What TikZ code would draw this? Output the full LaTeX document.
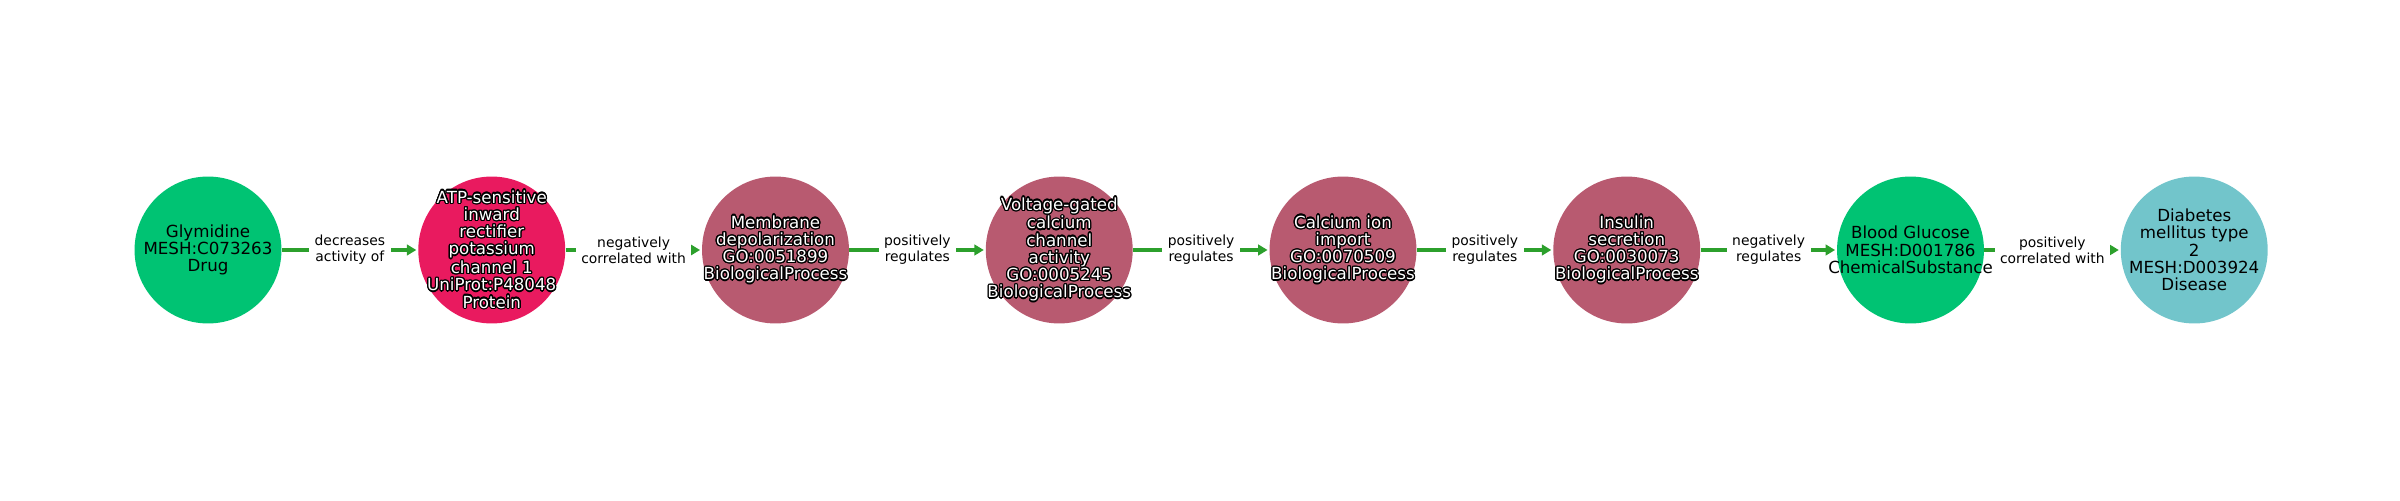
\documentclass[tikz,border=0pt]{standalone}
\usepackage{fontspec}
\setmainfont{DejaVu Sans}
\usepackage{contour}
\contourlength{0.9pt}
\usetikzlibrary{arrows.meta,positioning}

\definecolor{chemcol}{HTML}{00C373}
\definecolor{protcol}{HTML}{E91A5F}
\definecolor{proccol}{HTML}{B85A70}
\definecolor{discol}{HTML}{72C5CB}
\definecolor{edgecol}{HTML}{2CA02C}

\newcommand{\outl}[1]{\contour{black}{#1}}

\begin{document}
\begin{tikzpicture}[x=0.72pt, y=0.72pt, node distance=98.1pt,
    entity/.style={circle, draw=none, minimum size=105.8pt, inner sep=0pt},
    chem/.style={entity, fill=chemcol},
    protein/.style={entity, fill=protcol},
    process/.style={entity, fill=proccol},
    disease/.style={entity, fill=discol},
    nodetext/.style={inner sep=0pt, align=center, text=black, font=\fontsize{12}{12.4}\selectfont},
    nodetextout/.style={nodetext, text=white},
    rel/.style={-{Triangle[length=6.8pt, width=7.6pt]}, line width=2.9pt, draw=edgecol, shorten >=1.2pt},
    rellabel/.style={midway, fill=white, inner xsep=4pt, inner ysep=1pt, align=center, font=\fontsize{10}{11.3}\selectfont, text=black}]

    \useasboundingbox (0,0) rectangle (2400,500);

    % Nodes
    \node[chem, label={[nodetext]center:{Glymidine\\MESH:C073263\\Drug}}] (glymidine) at (208,250) {};
    \node[protein, right=of glymidine, label={[nodetextout]center:{\outl{ATP-sensitive}\\\outl{inward}\\\outl{rectifier}\\\outl{potassium}\\\outl{channel 1}\\\outl{UniProt:P48048}\\\outl{Protein}}}] (kir) {};
    \node[process, right=of kir, label={[nodetextout]center:{\outl{Membrane}\\\outl{depolarization}\\\outl{GO:0051899}\\\outl{BiologicalProcess}}}] (depol) {};
    \node[process, right=of depol, label={[nodetextout]center:{\outl{Voltage-gated}\\\outl{calcium}\\\outl{channel}\\\outl{activity}\\\outl{GO:0005245}\\\outl{BiologicalProcess}}}] (cachannel) {};
    \node[process, right=of cachannel, label={[nodetextout]center:{\outl{Calcium ion}\\\outl{import}\\\outl{GO:0070509}\\\outl{BiologicalProcess}}}] (caimport) {};
    \node[process, right=of caimport, label={[nodetextout]center:{\outl{Insulin}\\\outl{secretion}\\\outl{GO:0030073}\\\outl{BiologicalProcess}}}] (insulin) {};
    \node[chem, right=of insulin, label={[nodetext]center:{Blood Glucose\\MESH:D001786\\ChemicalSubstance}}] (glucose) {};
    \node[disease, right=of glucose, label={[nodetext]center:{Diabetes\\mellitus type\\2\\MESH:D003924\\Disease}}] (diabetes) {};

    % Arrows
    \draw[rel] (glymidine) -- (kir) node[rellabel] {decreases\\activity of};
    \draw[rel] (kir) -- (depol) node[rellabel] {negatively\\correlated with};
    \draw[rel] (depol) -- (cachannel) node[rellabel] {positively\\regulates};
    \draw[rel] (cachannel) -- (caimport) node[rellabel] {positively\\regulates};
    \draw[rel] (caimport) -- (insulin) node[rellabel] {positively\\regulates};
    \draw[rel] (insulin) -- (glucose) node[rellabel] {negatively\\regulates};
    \draw[rel] (glucose) -- (diabetes) node[rellabel] {positively\\correlated with};
\end{tikzpicture}
\end{document}
